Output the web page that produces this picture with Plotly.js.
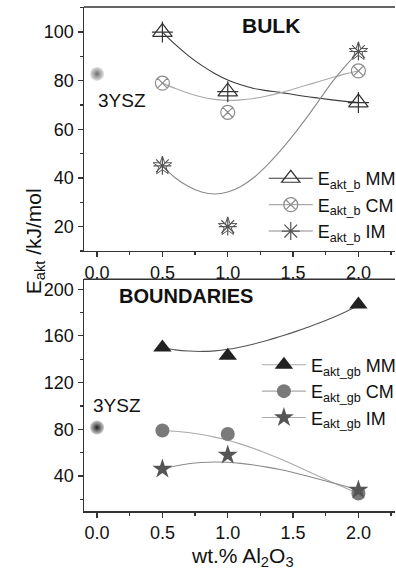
<!DOCTYPE html>
<html>
<head>
<meta charset="utf-8">
<script src="https://cdn.plot.ly/plotly-3.0.1.min.js"></script>
<style>html,body{margin:0;padding:0;background:#fff}#chart{width:396px;height:575px}</style>
</head>
<body>
<div id="chart"></div>
<script>
// ---- data: markers ----
const xData = [0.5, 1.0, 2.0];
const ref3YSZ_x = [0.0];
const bulkRef = [82.8];
const gbRef = [81.5];
const bulkMM = [100, 75.5, 71];
const bulkCM = [79, 67, 84];
const bulkIM = [45, 20, 92];
const gbMM = [150, 143, 187];
const gbCM = [79, 76, 25];
const gbIM = [46, 58, 28];
// ---- data: smoothed curves ----
const xCurve = [0.5,0.6,0.7,0.8,0.9,1.0,1.1,1.2,1.3,1.4,1.5,1.6,1.7,1.8,1.9,2.0];
const bulkMMcurve = [100,94.8,90.2,86.3,83,80.3,78.3,76.8,75.9,75.2,74.3,73.5,72.8,72.1,71.5,71];
const bulkCMcurve = [79,76.8,74.8,73.3,72.3,71.9,72.1,72.7,73.7,75,76.5,78.1,79.7,81.3,82.8,84];
const bulkIMcurve = [45,40,36.5,34.2,33.4,34.2,36.5,40.2,45.2,51,57.5,64.5,72,79.5,86,92];
const gbMMcurve = [150,148,147,146.7,147.2,148.5,150.5,153,156,159.5,163,167,171,175.5,180.5,186];
const gbCMcurve = [79,78.3,77.2,75.5,73.3,70.6,67.3,63.5,59.3,54.7,49.8,44.7,39.6,34.6,29.8,25.5];
const gbIMcurve = [46,48.6,50.5,51.6,52,51.7,50.8,49.4,47.6,45.5,43,40.2,37.2,34.2,31.2,28];
// ---- labels ----
const xTickVals = [0, 0.5, 1.0, 1.5, 2.0];
const xTickText = ['0.0','0.5','1.0','1.5','2.0'];
const bulkTicks = [20, 40, 60, 80, 100];
const gbTicks = [40, 80, 120, 160, 200];
const bulkNames = ['E<sub>akt_b</sub> MM','E<sub>akt_b</sub> CM','E<sub>akt_b</sub> IM'];
const gbNames = ['E<sub>akt_gb</sub> MM','E<sub>akt_gb</sub> CM','E<sub>akt_gb</sub> IM'];

const FONT = 'Liberation Sans, Arial, sans-serif';
const cMMl = '#3a3a3a', cCMl = '#aaaaaa', cIMl = '#8a8a8a';
const cMMmT = '#333333', cCMmT = '#8c8c8c', cIMmT = '#555555';
const cMMmB = '#222222', cCMmB = '#7a7a7a', cIMmB = '#555555';

function curve(x, y, color, xa, ya){
  return {x:x, y:y, xaxis:xa, yaxis:ya, mode:'lines', line:{color:color, width:1.1, shape:'spline'}, showlegend:false, hoverinfo:'skip'};
}
function pts(x, y, sym, size, color, xa, ya, lw){
  return {x:x, y:y, xaxis:xa, yaxis:ya, mode:'markers', showlegend:false,
    marker:{symbol:sym, size:size, color:color, line:{color:color, width:lw===undefined?1.2:lw}}};
}
function leg(name, sym, size, mcolor, lcolor, lg, lw){
  return {x:[null], y:[null], xaxis:lg==='legend'?'x':'x2', yaxis:lg==='legend'?'y':'y2', name:name, legend:lg, mode:'lines+markers',
    line:{color:lcolor, width:1.1}, marker:{symbol:sym, size:size, color:mcolor, line:{color:mcolor, width:lw===undefined?1.2:lw}}};
}

const traces = [
  // top: bulk
  curve(xCurve, bulkMMcurve, cMMl, 'x', 'y'),
  curve(xCurve, bulkCMcurve, cCMl, 'x', 'y'),
  curve(xCurve, bulkIMcurve, cIMl, 'x', 'y'),
  pts(xData, bulkMM, 'triangle-up-open', 17, cMMmT, 'x', 'y'),
  pts(xData, bulkMM, 'cross-thin-open', 15, cMMmT, 'x', 'y'),
  pts(xData, bulkCM, 'circle-x-open', 14, cCMmT, 'x', 'y'),
  pts(xData, bulkIM, 'asterisk-open', 15, cIMmT, 'x', 'y'),
  pts(xData, bulkIM, 'star-open', 14, cIMmT, 'x', 'y', 1),
  {x:ref3YSZ_x, y:bulkRef, xaxis:'x', yaxis:'y', mode:'markers', showlegend:false,
   marker:{symbol:'circle', size:14, color:'#e4e4e4', gradient:{type:'radial', color:'#6e6e6e'}, line:{width:0}}},
  leg(bulkNames[0], 'triangle-up-open', 17, cMMmT, cMMl, 'legend'),
  leg(bulkNames[1], 'circle-x-open', 14, cCMmT, cCMl, 'legend'),
  leg(bulkNames[2], 'asterisk-open', 15, cIMmT, cIMl, 'legend'),
  // bottom: boundaries
  curve(xCurve, gbMMcurve, '#555555', 'x2', 'y2'),
  curve(xCurve, gbCMcurve, cCMl, 'x2', 'y2'),
  curve(xCurve, gbIMcurve, cIMl, 'x2', 'y2'),
  pts(xData, gbMM, 'triangle-up', 16, cMMmB, 'x2', 'y2', 0),
  pts(xData, gbCM, 'circle', 14, cCMmB, 'x2', 'y2', 0),
  pts(xData, gbIM, 'star', 15, cIMmB, 'x2', 'y2', 0),
  {x:ref3YSZ_x, y:gbRef, xaxis:'x2', yaxis:'y2', mode:'markers', showlegend:false,
   marker:{symbol:'circle', size:14, color:'#d0d0d0', gradient:{type:'radial', color:'#1e1e1e'}, line:{width:0}}},
  leg(gbNames[0], 'triangle-up', 16, cMMmB, '#aaaaaa', 'legend2', 0),
  leg(gbNames[1], 'circle', 14, cCMmB, '#aaaaaa', 'legend2', 0),
  leg(gbNames[2], 'star', 15, cIMmB, '#aaaaaa', 'legend2', 0)
];

const axCommon = {showgrid:false, zeroline:false, showline:true, linecolor:'#333', linewidth:1.5,
  ticks:'outside', ticklen:5, tickwidth:1.2, tickcolor:'#333',
  tickfont:{family:FONT, size:18, color:'#111'}};
const xCommon = Object.assign({}, axCommon, {range:[-0.1, 2.28], tickvals:xTickVals, ticktext:xTickText, mirror:false,
  minor:{dtick:0.25, ticks:'outside', ticklen:3, tickwidth:1.2, tickcolor:'#333', showgrid:false}});

const layout = {
  width:396, height:575,
  margin:{l:84, r:1, t:7, b:64, autoexpand:false},
  paper_bgcolor:'#fff', plot_bgcolor:'#fff',
  font:{family:FONT, color:'#111'},
  xaxis: Object.assign({}, xCommon, {anchor:'y'}),
  xaxis2: Object.assign({}, xCommon, {anchor:'y2'}),
  yaxis: Object.assign({}, axCommon, {domain:[0.516, 1], range:[10, 110.3], tickvals:bulkTicks, anchor:'x',
    minor:{dtick:10, tick0:0, ticks:'outside', ticklen:3, tickwidth:1.2, tickcolor:'#333', showgrid:false}}),
  yaxis2: Object.assign({}, axCommon, {domain:[0, 0.46], range:[10, 208.6], tickvals:gbTicks, anchor:'x2',
    minor:{dtick:20, tick0:0, ticks:'outside', ticklen:3, tickwidth:1.2, tickcolor:'#333', showgrid:false}}),
  legend:{x:0.578, y:0.607, xref:'paper', yref:'paper', xanchor:'left', yanchor:'middle',
    bgcolor:'rgba(0,0,0,0)', font:{family:FONT, size:18, color:'#111'}, itemwidth:44, tracegroupgap:0},
  legend2:{x:0.556, y:0.237, xanchor:'left', yanchor:'middle',
    bgcolor:'rgba(0,0,0,0)', font:{family:FONT, size:18, color:'#111'}, itemwidth:44, tracegroupgap:0},
  shapes:[
    {type:'line', xref:'x domain', yref:'y domain', x0:0, x1:1, y0:1, y1:1, line:{color:'#333', width:1.5}},
    {type:'line', xref:'x2 domain', yref:'y2 domain', x0:0, x1:1, y0:1, y1:1, line:{color:'#333', width:1.5}}
  ],
  annotations:[
    {text:'<b>BULK</b>', x:1.33, y:102.6, xref:'x', yref:'y', showarrow:false, font:{family:FONT, size:21, color:'#111'}},
    {text:'<b>BOUNDARIES</b>', x:0.68, y:194, xref:'x2', yref:'y2', showarrow:false, font:{family:FONT, size:20, color:'#111'}},
    {text:'3YSZ', x:0.19, y:72, xref:'x', yref:'y', showarrow:false, font:{family:FONT, size:19, color:'#111'}},
    {text:'3YSZ', x:0.15, y:100.6, xref:'x2', yref:'y2', showarrow:false, font:{family:FONT, size:19, color:'#111'}},
    {text:'E<sub>akt</sub> /kJ/mol', x:-0.206, y:0.535, xref:'paper', yref:'paper', textangle:-90, showarrow:false,
     font:{family:FONT, size:21, color:'#111'}},
    {text:'wt.% Al<sub>2</sub>O<sub>3</sub>', x:0.51, y:-0.122, xref:'paper', yref:'paper', showarrow:false,
     font:{family:FONT, size:21, color:'#111'}}
  ]
};

Plotly.newPlot('chart', traces, layout, {staticPlot:true, displayModeBar:false});
</script>
</body>
</html>
